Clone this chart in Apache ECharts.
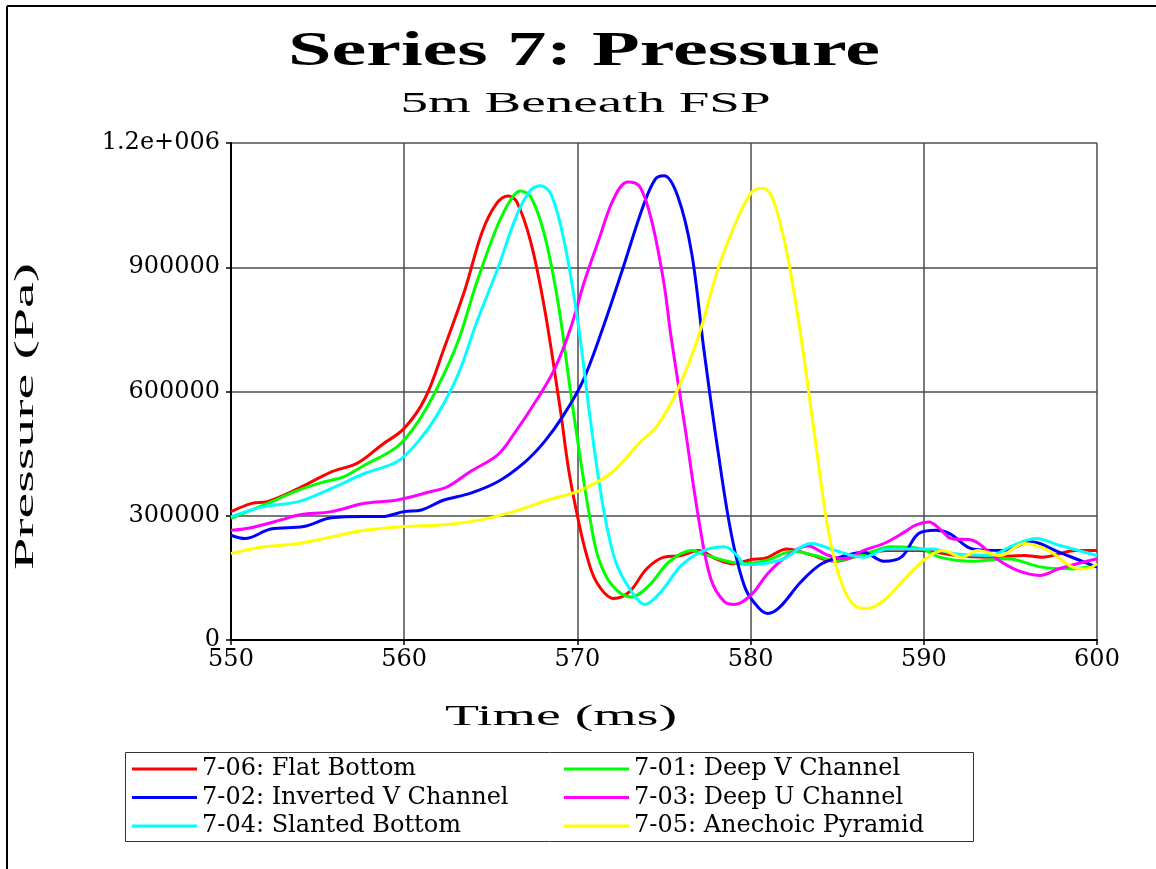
<!DOCTYPE html>
<html>
<head>
<meta charset="utf-8">
<script src="https://cdn.jsdelivr.net/npm/echarts@6/dist/echarts.min.js"></script>
<style>
  html, body { margin: 0; padding: 0; background: #fff; }
  #chart { width: 1156px; height: 869px; }
</style>
</head>
<body>
<div id="chart"></div>
<script>
// ---- Data (time in ms, pressure in Pa) ----
const chartTitle = 'Series 7: Pressure';
const chartSubtitle = '5m Beneath FSP';
const xAxisTitle = 'Time (ms)';
const yAxisTitle = 'Pressure (Pa)';

const timeTicks = [550, 560, 570, 580, 590, 600];
const pressureTicks = [0, 300000, 600000, 900000, 1200000];
const pressureTickLabels = ['0', '300000', '600000', '900000', '1.2e+006'];

const seriesNames = [
  '7-06: Flat Bottom',
  '7-01: Deep V Channel',
  '7-02: Inverted V Channel',
  '7-03: Deep U Channel',
  '7-04: Slanted Bottom',
  '7-05: Anechoic Pyramid'
];
const seriesColors = ['#ff0000', '#00ff00', '#0000ff', '#ff00ff', '#00ffff', '#ffff00'];

const flatBottom = [[550,310000],[551.2,330000],[552.1,334000],[553.9,366000],[555.8,406000],[557.3,427000],[558.7,471000],[560,511000],[561.2,583000],[562.3,704000],[563.5,845000],[564.5,985000],[565.3,1052000],[566,1072000],[566.5,1058000],[567.3,962000],[568.1,801000],[569,560000],[569.5,410000],[570,300000],[570.5,210000],[571.1,140000],[572.1,100000],[573,116000],[574,172000],[575,200000],[576,204000],[577,216000],[578,196000],[579,184000],[580,194000],[580.9,198000],[582.1,220000],[583.3,208000],[584.9,190000],[586.3,204000],[587.9,216000],[589.9,216000],[591.8,204000],[593.8,200000],[595.8,204000],[596.8,200000],[598.8,216000],[600,216000]];

const deepVChannel = [[550,294000],[551.9,326000],[553.9,362000],[555.4,382000],[556.5,394000],[557.7,422000],[559.6,467000],[560.8,527000],[561.9,608000],[563.1,720000],[564.2,865000],[565.4,1002000],[566.2,1066000],[566.7,1084000],[567.3,1070000],[568.1,978000],[568.9,810000],[569.6,600000],[570.2,430000],[570.7,300000],[571.2,200000],[572,132000],[573.1,104000],[574.1,130000],[575.3,189000],[576.6,216000],[577.5,204000],[578.5,192000],[579.5,184000],[580.9,192000],[582.5,214000],[583.7,204000],[584.9,192000],[586.9,212000],[588.1,225000],[589.9,220000],[590.9,200000],[592.8,190000],[594.8,196000],[596.8,176000],[598.4,172000],[600,180000]];

const invertedVChannel = [[550,253000],[550.8,245000],[552.3,268000],[554.2,274000],[555.8,295000],[557.7,298000],[558.7,298000],[560,310000],[561,314000],[562.3,338000],[563.8,354000],[565.4,382000],[566.9,427000],[568.1,479000],[569.2,543000],[570.3,624000],[571.4,745000],[572.6,894000],[573.8,1048000],[574.5,1113000],[575,1121000],[575.8,1071000],[576.6,934000],[577.3,702000],[578.1,461000],[578.9,253000],[579.7,124000],[580.5,76000],[581,64000],[581.7,80000],[582.9,140000],[584.1,184000],[585.5,204000],[586.5,212000],[587.7,190000],[588.7,200000],[589.7,257000],[590.7,265000],[591.5,257000],[592.8,220000],[594.6,216000],[596.2,237000],[597.8,212000],[600,176000]];

const deepUChannel = [[550,265000],[551,270000],[552.9,290000],[553.9,302000],[555.8,310000],[557.7,330000],[559.6,338000],[561.5,358000],[562.5,370000],[563.8,406000],[565.4,447000],[566.3,495000],[567.7,583000],[568.7,656000],[569.6,752000],[570.4,865000],[571.2,962000],[572.1,1066000],[572.9,1106000],[573.6,1095000],[574.3,1010000],[575,860000],[575.4,734000],[576.2,517000],[577,293000],[577.7,148000],[578.5,92000],[579.1,86000],[580.1,112000],[580.9,156000],[581.9,196000],[583.3,227000],[584.5,204000],[585.5,196000],[586.5,216000],[587.7,233000],[588.9,261000],[589.5,277000],[590.3,285000],[590.9,269000],[591.6,245000],[592.8,241000],[594.2,196000],[595.4,168000],[596.7,156000],[597.8,172000],[600,196000]];

const slantedBottom = [[550,298000],[551.9,322000],[553.9,334000],[555.8,366000],[557.7,402000],[559.6,431000],[560.8,479000],[561.9,543000],[563.1,640000],[564.2,769000],[565.4,897000],[566.5,1026000],[567.3,1086000],[567.9,1097000],[568.5,1074000],[569.2,970000],[570,776000],[570.8,515000],[571.5,318000],[572.2,190000],[573,125000],[573.9,86000],[574.8,115000],[576,180000],[577.3,216000],[578.5,225000],[579.2,205000],[579.7,182000],[580.7,184000],[581.9,196000],[583.5,233000],[584.9,216000],[586.5,200000],[587.9,220000],[590.5,220000],[591.8,208000],[593.8,204000],[595.2,229000],[596.5,245000],[597.8,229000],[600,204000]];

const anechoicPyramid = [[550,209000],[551.9,225000],[553.9,233000],[555.8,249000],[557.7,265000],[560,274000],[562.5,279000],[564.4,290000],[566.3,310000],[568.3,338000],[570.2,362000],[572,405000],[573.6,477000],[574.6,517000],[575.8,606000],[577,734000],[578.1,894000],[579.3,1023000],[580.1,1083000],[580.7,1091000],[581.3,1063000],[582.1,934000],[582.9,734000],[583.7,493000],[584.5,261000],[585.3,132000],[586.1,80000],[586.7,76000],[587.7,96000],[588.9,148000],[590.1,196000],[591.1,216000],[592.2,200000],[593.1,216000],[594.4,204000],[595.8,233000],[597.2,216000],[598.6,176000],[599.4,172000],[600,184000]];

const seriesData = [flatBottom, deepVChannel, invertedVChannel, deepUChannel, slantedBottom, anechoicPyramid];

// ---- helpers ----
const measureCtx = document.createElement('canvas').getContext('2d');
function stretchFor(text, font, targetWidth) {
  measureCtx.font = font;
  return targetWidth / measureCtx.measureText(text).width;
}
const SERIF = 'Liberation Serif';
function stretchedText(text, size, weight, cx, cy, targetWidth, rotation) {
  const font = (weight === 'bold' ? 'bold ' : '') + size + 'px "' + SERIF + '"';
  return {
    type: 'text',
    x: cx, y: cy,
    rotation: rotation || 0,
    scaleX: stretchFor(text, font, targetWidth),
    scaleY: 1,
    silent: true,
    style: {
      text: text, x: 0, y: 0,
      fontFamily: SERIF, fontSize: size, fontWeight: weight,
      fill: '#000', textAlign: 'center', textVerticalAlign: 'middle'
    }
  };
}

const chart = echarts.init(document.getElementById('chart'), null, { renderer: 'canvas' });

const labelFont = { fontFamily: 'DejaVu Serif', fontSize: 24, color: '#000' };
const legendText = { fontFamily: 'DejaVu Serif', fontSize: 24, color: '#000', lineHeight: 26 };

const option = {
  backgroundColor: '#fff',
  animation: false,
  grid: { left: 231, top: 143, width: 866, height: 497, containLabel: false },
  xAxis: {
    type: 'value',
    min: timeTicks[0], max: timeTicks[timeTicks.length - 1], interval: 10,
    axisLine: { show: true, onZero: false, lineStyle: { color: '#000', width: 2 } },
    axisTick: { show: true, inside: false, length: 5, lineStyle: { color: '#000', width: 1.5 } },
    splitLine: { show: true, lineStyle: { color: '#4d4d4d', width: 1.5 } },
    axisLabel: Object.assign({ margin: 8 }, labelFont)
  },
  yAxis: {
    type: 'value',
    min: pressureTicks[0], max: pressureTicks[pressureTicks.length - 1], interval: 300000,
    axisLine: { show: true, lineStyle: { color: '#000', width: 2 } },
    axisTick: { show: true, inside: false, length: 5, lineStyle: { color: '#000', width: 1.5 } },
    splitLine: { show: true, lineStyle: { color: '#4d4d4d', width: 1.5 } },
    axisLabel: Object.assign({
      margin: 11,
      formatter: function (v) { const i = pressureTicks.indexOf(v); return i >= 0 ? pressureTickLabels[i] : ''; }
    }, labelFont)
  },
  legend: [
    {
      data: [seriesNames[0], seriesNames[2], seriesNames[4]],
      orient: 'vertical', left: 132, top: 756, padding: 0,
      itemWidth: 65, itemHeight: 3, itemGap: 2.5, icon: 'rect',
      textStyle: legendText
    },
    {
      data: [seriesNames[1], seriesNames[3], seriesNames[5]],
      orient: 'vertical', left: 564, top: 756, padding: 0,
      itemWidth: 65, itemHeight: 3, itemGap: 2.5, icon: 'rect',
      textStyle: legendText
    }
  ],
  graphic: [
    { type: 'line', silent: true, shape: { x1: 7, y1: 6, x2: 1156, y2: 6 }, style: { stroke: '#000', lineWidth: 2 } },
    { type: 'line', silent: true, shape: { x1: 7, y1: 6, x2: 7, y2: 869 }, style: { stroke: '#000', lineWidth: 2 } },
    { type: 'rect', silent: true, shape: { x: 125.5, y: 752.5, width: 848, height: 89 }, style: { fill: 'none', stroke: '#333', lineWidth: 1 } },
    stretchedText(chartTitle, 48, 'bold', 584, 53, 592),
    stretchedText(chartSubtitle, 30, 'normal', 585.5, 104, 370),
    stretchedText(xAxisTitle, 29, 'normal', 561, 717, 232),
    stretchedText(yAxisTitle, 27, 'normal', 26, 416.5, 307, Math.PI / 2)
  ],
  series: seriesNames.map(function (name, i) {
    return {
      name: name,
      type: 'line',
      data: seriesData[i],
      showSymbol: false,
      smooth: 0.35,
      color: seriesColors[i],
      lineStyle: { color: seriesColors[i], width: 3 },
      z: 3
    };
  })
};

chart.setOption(option);
</script>
</body>
</html>
